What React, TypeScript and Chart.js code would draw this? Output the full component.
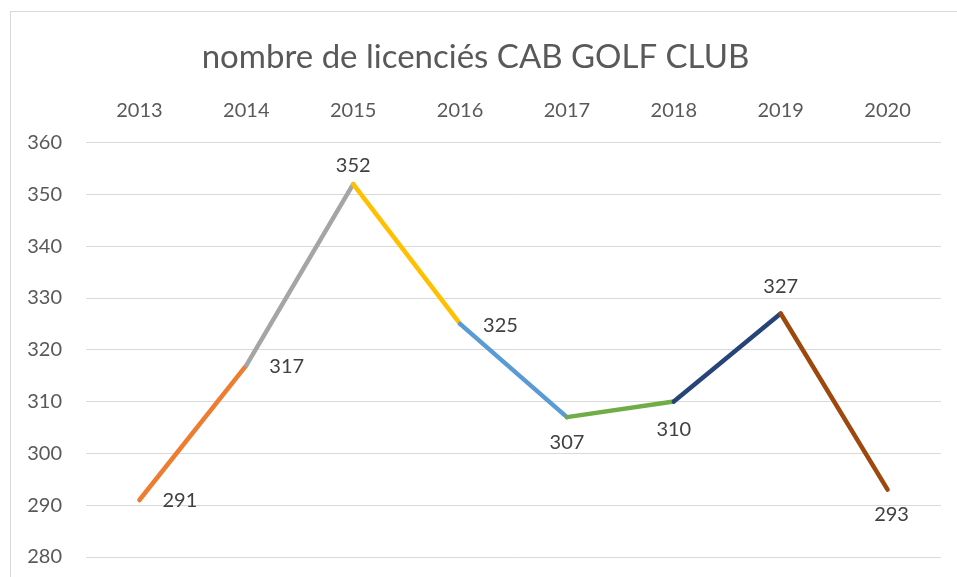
import React, { useEffect, useRef } from "react";
import { Chart, registerables } from "chart.js";

Chart.register(...registerables);

const TITLE = "nombre de licenciés CAB GOLF CLUB";
const YEARS = ["2013", "2014", "2015", "2016", "2017", "2018", "2019", "2020"];
const LICENCIES = [291, 317, 352, 325, 307, 310, 327, 293];
const SEGMENT_COLORS = ["#ED7D31", "#A5A5A5", "#FFC000", "#5B9BD5", "#70AD47", "#264478", "#9E480E"];
// label placement per point: [dx, dy, textAlign]
const LABEL_PLACEMENT: [number, number, CanvasTextAlign][] = [
  [23, 1, "left"],
  [23, 1, "left"],
  [0, -18, "center"],
  [23, 2, "left"],
  [0, 25, "center"],
  [0, 28, "center"],
  [0, -27, "center"],
  [4, 25, "center"],
];

const FONT = "Lato, 'Open Sans', sans-serif";
const TEXT = "#595959";

const borderPlugin = {
  id: "outerBorder",
  beforeDraw(chart: any) {
    const ctx = chart.ctx;
    ctx.save();
    ctx.strokeStyle = "#D9D9D9";
    ctx.lineWidth = 1;
    ctx.strokeRect(10.5, 11.5, 1000, 1000);
    ctx.restore();
  },
};

const labelPlugin = {
  id: "pointLabels",
  afterDatasetsDraw(chart: any) {
    const ctx = chart.ctx;
    const meta = chart.getDatasetMeta(0);
    ctx.save();
    ctx.font = `20px ${FONT}`;
    ctx.fillStyle = "#404040";
    ctx.textBaseline = "middle";
    meta.data.forEach((pt: any, i: number) => {
      const [dx, dy, align] = LABEL_PLACEMENT[i];
      ctx.textAlign = align;
      ctx.fillText(String(LICENCIES[i]), pt.x + dx, pt.y + dy);
    });
    ctx.restore();
  },
};

export default function App() {
  const ref = useRef<HTMLCanvasElement>(null);
  useEffect(() => {
    if (!ref.current) return;
    const chart = new Chart(ref.current, {
      type: "line",
      data: {
        labels: YEARS,
        datasets: [
          {
            data: LICENCIES,
            borderWidth: 4.5,
            borderCapStyle: "round",
            borderJoinStyle: "round",
            pointRadius: 0,
            pointHoverRadius: 0,
            tension: 0,
            borderColor: SEGMENT_COLORS[0],
            segment: {
              borderColor: (c: any) => SEGMENT_COLORS[c.p0DataIndex],
            },
          },
        ],
      },
      options: {
        animation: false,
        responsive: false,
        maintainAspectRatio: false,
        layout: { padding: { left: 10, right: 16, top: 0, bottom: 20 } },
        plugins: {
          legend: { display: false },
          tooltip: { enabled: false },
          title: {
            display: true,
            text: TITLE,
            color: TEXT,
            font: { family: FONT, size: 33, weight: "normal" },
            padding: { top: 38, bottom: 0 },
          },
        },
        scales: {
          x: {
            position: "top",
            offset: true,
            grid: { display: false, drawTicks: false },
            border: { display: false },
            ticks: {
              color: TEXT,
              font: { family: FONT, size: 20 },
              padding: 20,
              maxRotation: 0,
            },
            afterFit: (s: any) => {
              s.height = 65;
              s.paddingLeft = 0;
              s.paddingRight = 0;
            },
          },
          y: {
            min: 280,
            max: 360,
            grid: { color: "#D9D9D9", lineWidth: 1, drawTicks: false },
            border: { display: false },
            ticks: {
              stepSize: 10,
              color: TEXT,
              font: { family: FONT, size: 20 },
              padding: 24,
            },
            afterFit: (s: any) => {
              s.width = 76;
              s.paddingTop = 0;
              s.paddingBottom = 0;
            },
          },
        },
      },
      plugins: [borderPlugin, labelPlugin],
    });
    return () => chart.destroy();
  }, []);
  return (
    <div style={{ position: "fixed", left: 0, top: 0, width: 957, height: 577, background: "#fff" }}>
      <canvas ref={ref} width={957} height={577} style={{ display: "block" }} />
    </div>
  );
}
